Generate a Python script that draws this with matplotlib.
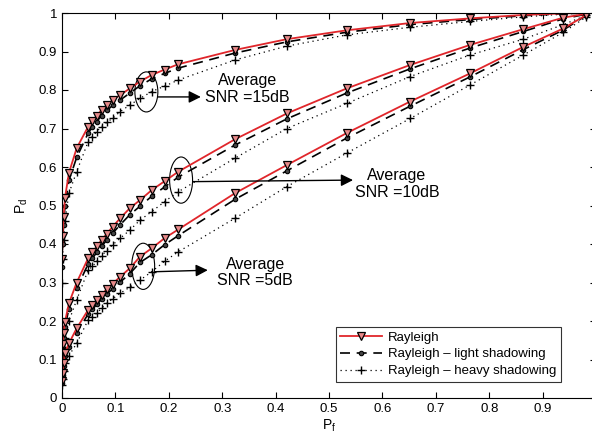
import matplotlib
matplotlib.use("Agg")
import matplotlib.pyplot as plt
from matplotlib.patches import Ellipse

plt.rcParams["font.family"] = ["Liberation Sans", "DejaVu Sans"]

# shared false-alarm probabilities (threshold sweep)
pf = [0.0, 0.001, 0.003, 0.0056, 0.013, 0.0275, 0.049, 0.057, 0.065, 0.074,
      0.084, 0.095, 0.109, 0.127, 0.146, 0.168, 0.192, 0.218, 0.324, 0.421,
      0.533, 0.652, 0.764, 0.864, 0.939, 0.982]

# detection probabilities, SNR = 15 dB
pd15_ray = [0.36, 0.42, 0.47, 0.52, 0.585, 0.649, 0.705, 0.72, 0.733, 0.748,
            0.761, 0.774, 0.787, 0.804, 0.822, 0.839, 0.853, 0.867, 0.904, 0.932,
            0.955, 0.974, 0.986, 0.995, 0.999, 1.0]
pd15_light = [0.34, 0.40, 0.45, 0.50, 0.565, 0.625, 0.688, 0.704, 0.718, 0.733,
              0.747, 0.76, 0.774, 0.792, 0.811, 0.829, 0.843, 0.857, 0.896, 0.925,
              0.95, 0.97, 0.983, 0.993, 0.998, 1.0]
pd15_heavy = [0.30, 0.36, 0.41, 0.46, 0.532, 0.588, 0.666, 0.679, 0.692, 0.705,
              0.716, 0.727, 0.744, 0.761, 0.778, 0.796, 0.81, 0.826, 0.878, 0.914,
              0.943, 0.963, 0.978, 0.99, 0.997, 1.0]

# SNR = 10 dB
pd10_ray = [0.12, 0.14, 0.168, 0.198, 0.246, 0.300, 0.363, 0.378, 0.394, 0.41,
            0.427, 0.445, 0.467, 0.493, 0.514, 0.54, 0.563, 0.588, 0.672, 0.739,
            0.804, 0.865, 0.917, 0.958, 0.988, 0.998]
pd10_light = [0.11, 0.13, 0.155, 0.185, 0.232, 0.285, 0.348, 0.363, 0.378, 0.394,
              0.41, 0.428, 0.45, 0.476, 0.498, 0.524, 0.548, 0.574, 0.657, 0.725,
              0.792, 0.855, 0.909, 0.952, 0.985, 0.997]
pd10_heavy = [0.09, 0.11, 0.13, 0.155, 0.20, 0.255, 0.332, 0.342, 0.355, 0.37,
              0.383, 0.398, 0.415, 0.436, 0.462, 0.484, 0.51, 0.536, 0.623, 0.70,
              0.765, 0.835, 0.891, 0.932, 0.97, 0.994]

# SNR = 5 dB
pd5_ray = [0.045, 0.065, 0.09, 0.117, 0.142, 0.181, 0.229, 0.242, 0.255, 0.268,
           0.283, 0.297, 0.315, 0.337, 0.367, 0.389, 0.415, 0.438, 0.532, 0.605,
           0.688, 0.77, 0.843, 0.912, 0.96, 0.995]
pd5_light = [0.04, 0.06, 0.083, 0.108, 0.132, 0.17, 0.218, 0.23, 0.243, 0.256,
             0.27, 0.284, 0.301, 0.323, 0.352, 0.372, 0.398, 0.422, 0.516, 0.59,
             0.675, 0.758, 0.834, 0.905, 0.956, 0.994]
pd5_heavy = [0.035, 0.05, 0.07, 0.09, 0.11, 0.142, 0.203, 0.211, 0.22, 0.233,
             0.246, 0.258, 0.272, 0.288, 0.306, 0.328, 0.355, 0.38, 0.467, 0.549,
             0.636, 0.726, 0.813, 0.891, 0.95, 0.99]

labels = ["Rayleigh", "Rayleigh \u2013 light shadowing", "Rayleigh \u2013 heavy shadowing"]
red = "#e0262b"

fig = plt.figure(figsize=(5.92, 4.41), dpi=100)
ax = fig.add_axes([62 / 592, 43 / 441, 534 / 592, 385 / 441])

groups = [(pd15_ray, pd15_light, pd15_heavy),
          (pd10_ray, pd10_light, pd10_heavy),
          (pd5_ray, pd5_light, pd5_heavy)]
handles = None
for ray, light, heavy in groups:
    h3, = ax.plot(pf, heavy, linestyle=(0, (1, 3)), color="k", lw=0.9,
                  marker="+", ms=5.5, mew=1.0)
    h2, = ax.plot(pf, light, linestyle=(0, (6, 4)), color="k", lw=1.2,
                  marker="o", ms=3.2, mfc="#444444", mec="k", mew=0.8)
    h1, = ax.plot(pf, ray, "-", color=red, lw=1.3,
                  marker="v", ms=5.2, mfc="#e88a8a", mec="k", mew=0.9)
    if handles is None:
        handles = [h1, h2, h3]

# annotations: ellipses, arrows and text
notes = [((0.158, 0.795), 0.043, 0.104, (0.18, 0.782), (0.26, 0.782), (0.347, 0.802), "Average\nSNR =15dB"),
         ((0.223, 0.566), 0.043, 0.12, (0.245, 0.562), (0.545, 0.566), (0.627, 0.556), "Average\nSNR =10dB"),
         ((0.152, 0.342), 0.043, 0.12, (0.174, 0.328), (0.273, 0.332), (0.362, 0.326), "Average\nSNR =5dB")]
for center, w, h, start, end, tpos, txt in notes:
    ax.add_patch(Ellipse(center, w, h, fill=False, ec="k", lw=0.8))
    ax.annotate("", xy=end, xytext=start,
                arrowprops=dict(arrowstyle="-|>", color="k", lw=1.0,
                                mutation_scale=18, shrinkA=0, shrinkB=0))
    ax.text(tpos[0], tpos[1], txt, ha="center", va="center", fontsize=11.5,
            linespacing=1.15)

ax.set_xlim(0, 1)
ax.set_ylim(0, 1)
ax.set_xticks([0, 0.1, 0.2, 0.3, 0.4, 0.5, 0.6, 0.7, 0.8, 0.9, 1])
ax.set_xticklabels(["0", "0.1", "0.2", "0.3", "0.4", "0.5", "0.6", "0.7", "0.8", "0.9", ""])
ax.set_yticks([0, 0.1, 0.2, 0.3, 0.4, 0.5, 0.6, 0.7, 0.8, 0.9, 1])
ax.set_yticklabels(["0", "0.1", "0.2", "0.3", "0.4", "0.5", "0.6", "0.7", "0.8", "0.9", "1"])
ax.tick_params(direction="in", top=True, right=True, labelsize=9.5, length=4)
ax.set_xlabel("P$_\\mathregular{f}$", fontsize=10, labelpad=2)
ax.set_ylabel("P$_\\mathregular{d}$", fontsize=10, labelpad=6)

leg = ax.legend(handles, labels, loc="lower right", bbox_to_anchor=(0.934, 0.042),
                fontsize=9.5, frameon=True, fancybox=False, edgecolor="k",
                handlelength=3.2, borderaxespad=0, handletextpad=0.4,
                labelspacing=0.35, borderpad=0.35)
leg.get_frame().set_linewidth(0.8)

fig.savefig("out.png", dpi=100)
